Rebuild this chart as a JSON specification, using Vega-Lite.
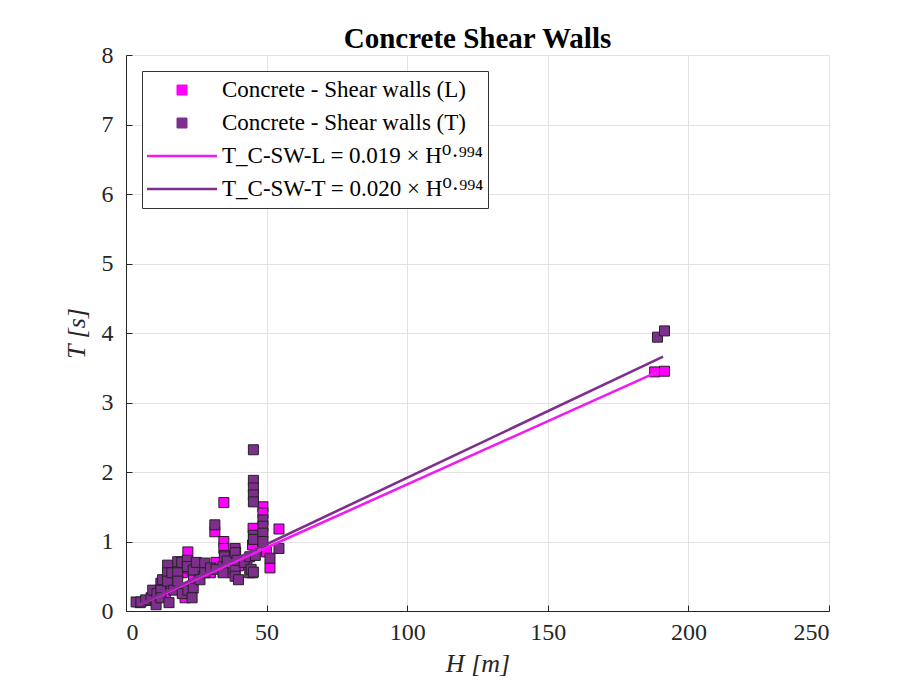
{
  "$schema": "https://vega.github.io/schema/vega-lite/v6.json",
  "width": 703,
  "height": 556,
  "autosize": {"type": "none"},
  "padding": {"left": 126, "top": 55, "right": 78, "bottom": 73},
  "background": "white",
  "config": {
    "font": "Liberation Serif",
    "view": {"stroke": "#d9d9d9", "strokeWidth": 1},
    "axis": {
      "labelFont": "Liberation Serif",
      "titleFont": "Liberation Serif",
      "labelFontSize": 24,
      "titleFontSize": 26,
      "titleFontWeight": "normal",
      "labelColor": "#262626",
      "titleColor": "#262626",
      "domainColor": "#262626",
      "tickColor": "#262626",
      "gridColor": "#e3e3e3",
      "tickSize": -6,
      "domainWidth": 1,
      "grid": true
    }
  },
  "title": {
    "text": "Concrete Shear Walls",
    "font": "Liberation Serif",
    "fontSize": 29,
    "fontWeight": "bold",
    "color": "#000000",
    "frame": "group",
    "offset": 4,
    "dy": 15,
    "anchor": "middle"
  },
  "datasets": {
    "pts": [
      {"series": "Concrete - Shear walls (L)", "H": 5, "T": 0.12},
      {"series": "Concrete - Shear walls (L)", "H": 8, "T": 0.15},
      {"series": "Concrete - Shear walls (L)", "H": 10, "T": 0.22},
      {"series": "Concrete - Shear walls (L)", "H": 12, "T": 0.3},
      {"series": "Concrete - Shear walls (L)", "H": 14, "T": 0.25},
      {"series": "Concrete - Shear walls (L)", "H": 15, "T": 0.4},
      {"series": "Concrete - Shear walls (L)", "H": 16, "T": 0.5},
      {"series": "Concrete - Shear walls (L)", "H": 18, "T": 0.35},
      {"series": "Concrete - Shear walls (L)", "H": 20, "T": 0.55},
      {"series": "Concrete - Shear walls (L)", "H": 21, "T": 0.19},
      {"series": "Concrete - Shear walls (L)", "H": 22, "T": 0.85},
      {"series": "Concrete - Shear walls (L)", "H": 22, "T": 0.62},
      {"series": "Concrete - Shear walls (L)", "H": 24, "T": 0.45},
      {"series": "Concrete - Shear walls (L)", "H": 26, "T": 0.5},
      {"series": "Concrete - Shear walls (L)", "H": 28, "T": 0.62},
      {"series": "Concrete - Shear walls (L)", "H": 30, "T": 0.55},
      {"series": "Concrete - Shear walls (L)", "H": 31.6, "T": 1.14},
      {"series": "Concrete - Shear walls (L)", "H": 32, "T": 0.7},
      {"series": "Concrete - Shear walls (L)", "H": 34.8, "T": 1.56},
      {"series": "Concrete - Shear walls (L)", "H": 34.8, "T": 1.0},
      {"series": "Concrete - Shear walls (L)", "H": 34.8, "T": 0.9},
      {"series": "Concrete - Shear walls (L)", "H": 35, "T": 0.8},
      {"series": "Concrete - Shear walls (L)", "H": 38, "T": 0.55},
      {"series": "Concrete - Shear walls (L)", "H": 39, "T": 0.85},
      {"series": "Concrete - Shear walls (L)", "H": 40, "T": 0.65},
      {"series": "Concrete - Shear walls (L)", "H": 43, "T": 0.7},
      {"series": "Concrete - Shear walls (L)", "H": 45.2, "T": 1.19},
      {"series": "Concrete - Shear walls (L)", "H": 45, "T": 0.55},
      {"series": "Concrete - Shear walls (L)", "H": 45, "T": 0.95},
      {"series": "Concrete - Shear walls (L)", "H": 48.7, "T": 1.5},
      {"series": "Concrete - Shear walls (L)", "H": 48.7, "T": 1.41},
      {"series": "Concrete - Shear walls (L)", "H": 50, "T": 0.85},
      {"series": "Concrete - Shear walls (L)", "H": 51.2, "T": 0.62},
      {"series": "Concrete - Shear walls (L)", "H": 54.4, "T": 1.18},
      {"series": "Concrete - Shear walls (L)", "H": 188, "T": 3.44},
      {"series": "Concrete - Shear walls (L)", "H": 191.5, "T": 3.45},
      {"series": "Concrete - Shear walls (T)", "H": 3.6, "T": 0.13},
      {"series": "Concrete - Shear walls (T)", "H": 5.3, "T": 0.13},
      {"series": "Concrete - Shear walls (T)", "H": 7, "T": 0.16},
      {"series": "Concrete - Shear walls (T)", "H": 8.9, "T": 0.19},
      {"series": "Concrete - Shear walls (T)", "H": 9.5, "T": 0.3},
      {"series": "Concrete - Shear walls (T)", "H": 10.7, "T": 0.09},
      {"series": "Concrete - Shear walls (T)", "H": 11, "T": 0.25},
      {"series": "Concrete - Shear walls (T)", "H": 12.4, "T": 0.4},
      {"series": "Concrete - Shear walls (T)", "H": 12.4, "T": 0.3},
      {"series": "Concrete - Shear walls (T)", "H": 12.4, "T": 0.19},
      {"series": "Concrete - Shear walls (T)", "H": 13, "T": 0.45},
      {"series": "Concrete - Shear walls (T)", "H": 14.8, "T": 0.66},
      {"series": "Concrete - Shear walls (T)", "H": 14.8, "T": 0.55},
      {"series": "Concrete - Shear walls (T)", "H": 14.8, "T": 0.43},
      {"series": "Concrete - Shear walls (T)", "H": 15.3, "T": 0.12},
      {"series": "Concrete - Shear walls (T)", "H": 16.3, "T": 0.55},
      {"series": "Concrete - Shear walls (T)", "H": 17, "T": 0.3},
      {"series": "Concrete - Shear walls (T)", "H": 18.4, "T": 0.71},
      {"series": "Concrete - Shear walls (T)", "H": 18.4, "T": 0.55},
      {"series": "Concrete - Shear walls (T)", "H": 18.4, "T": 0.43},
      {"series": "Concrete - Shear walls (T)", "H": 19.8, "T": 0.7},
      {"series": "Concrete - Shear walls (T)", "H": 20, "T": 0.25},
      {"series": "Concrete - Shear walls (T)", "H": 21.8, "T": 0.73},
      {"series": "Concrete - Shear walls (T)", "H": 21.8, "T": 0.64},
      {"series": "Concrete - Shear walls (T)", "H": 22, "T": 0.3},
      {"series": "Concrete - Shear walls (T)", "H": 23.9, "T": 0.59},
      {"series": "Concrete - Shear walls (T)", "H": 23.9, "T": 0.33},
      {"series": "Concrete - Shear walls (T)", "H": 23.5, "T": 0.19},
      {"series": "Concrete - Shear walls (T)", "H": 25, "T": 0.7},
      {"series": "Concrete - Shear walls (T)", "H": 26.3, "T": 0.45},
      {"series": "Concrete - Shear walls (T)", "H": 28, "T": 0.69},
      {"series": "Concrete - Shear walls (T)", "H": 28, "T": 0.55},
      {"series": "Concrete - Shear walls (T)", "H": 30, "T": 0.62},
      {"series": "Concrete - Shear walls (T)", "H": 31.6, "T": 1.24},
      {"series": "Concrete - Shear walls (T)", "H": 32, "T": 0.6},
      {"series": "Concrete - Shear walls (T)", "H": 34.5, "T": 0.64},
      {"series": "Concrete - Shear walls (T)", "H": 34.5, "T": 0.55},
      {"series": "Concrete - Shear walls (T)", "H": 35, "T": 0.78},
      {"series": "Concrete - Shear walls (T)", "H": 36, "T": 0.72},
      {"series": "Concrete - Shear walls (T)", "H": 38.8, "T": 0.9},
      {"series": "Concrete - Shear walls (T)", "H": 38.8, "T": 0.84},
      {"series": "Concrete - Shear walls (T)", "H": 38.8, "T": 0.59},
      {"series": "Concrete - Shear walls (T)", "H": 38.8, "T": 0.5},
      {"series": "Concrete - Shear walls (T)", "H": 39.5, "T": 0.73},
      {"series": "Concrete - Shear walls (T)", "H": 40, "T": 0.45},
      {"series": "Concrete - Shear walls (T)", "H": 42, "T": 0.7},
      {"series": "Concrete - Shear walls (T)", "H": 44, "T": 0.78},
      {"series": "Concrete - Shear walls (T)", "H": 44, "T": 0.55},
      {"series": "Concrete - Shear walls (T)", "H": 44.5, "T": 0.6},
      {"series": "Concrete - Shear walls (T)", "H": 45.3, "T": 2.32},
      {"series": "Concrete - Shear walls (T)", "H": 45.3, "T": 1.88},
      {"series": "Concrete - Shear walls (T)", "H": 45.3, "T": 1.77},
      {"series": "Concrete - Shear walls (T)", "H": 45.3, "T": 1.67},
      {"series": "Concrete - Shear walls (T)", "H": 45.3, "T": 1.57},
      {"series": "Concrete - Shear walls (T)", "H": 45.3, "T": 1.09},
      {"series": "Concrete - Shear walls (T)", "H": 45.3, "T": 1.03},
      {"series": "Concrete - Shear walls (T)", "H": 45.3, "T": 0.56},
      {"series": "Concrete - Shear walls (T)", "H": 46, "T": 0.8},
      {"series": "Concrete - Shear walls (T)", "H": 48.7, "T": 1.31},
      {"series": "Concrete - Shear walls (T)", "H": 48.7, "T": 1.22},
      {"series": "Concrete - Shear walls (T)", "H": 48.7, "T": 1.12},
      {"series": "Concrete - Shear walls (T)", "H": 48.7, "T": 1.0},
      {"series": "Concrete - Shear walls (T)", "H": 51.2, "T": 0.76},
      {"series": "Concrete - Shear walls (T)", "H": 54.4, "T": 0.9},
      {"series": "Concrete - Shear walls (T)", "H": 189, "T": 3.94},
      {"series": "Concrete - Shear walls (T)", "H": 191.5, "T": 4.03}
    ],
    "fit": [
      {"series": "T_C-SW-L = 0.019 × H⁰·⁹⁹⁴", "H": 5, "T": 0.094},
      {"series": "T_C-SW-L = 0.019 × H⁰·⁹⁹⁴", "H": 189, "T": 3.44},
      {"series": "T_C-SW-T = 0.020 × H⁰·⁹⁹⁴", "H": 5, "T": 0.099},
      {"series": "T_C-SW-T = 0.020 × H⁰·⁹⁹⁴", "H": 191, "T": 3.66}
    ]
  },
  "layer": [
    {
      "data": {"name": "pts"},
      "mark": {"type": "point", "shape": "square", "filled": true, "size": 100, "opacity": 1, "stroke": "#222222", "strokeWidth": 1},
      "encoding": {
        "x": {"field": "H", "type": "quantitative"},
        "y": {"field": "T", "type": "quantitative"},
        "color": {"field": "series", "type": "nominal"}
      }
    },
    {
      "data": {"name": "fit"},
      "mark": {"type": "line", "strokeWidth": 2.6},
      "encoding": {
        "x": {"field": "H", "type": "quantitative",
          "scale": {"domain": [0, 250], "nice": false},
          "axis": {"values": [0, 50, 100, 150, 200, 250], "format": "d", "title": "H [m]", "labelFont": "Liberation Serif", "titleFont": "Liberation Serif", "labelPadding": 15, "titlePadding": 6, "titleFontStyle": "italic"}},
        "y": {"field": "T", "type": "quantitative",
          "scale": {"domain": [0, 8], "nice": false},
          "axis": {"values": [0, 1, 2, 3, 4, 5, 6, 7, 8], "format": "d", "title": "T [s]", "labelFont": "Liberation Serif", "titleFont": "Liberation Serif", "labelPadding": 19, "titlePadding": 12, "titleFontStyle": "italic"}},
        "color": {
          "field": "series", "type": "nominal",
          "scale": {
            "domain": ["Concrete - Shear walls (L)", "Concrete - Shear walls (T)", "T_C-SW-L = 0.019 × H⁰·⁹⁹⁴", "T_C-SW-T = 0.020 × H⁰·⁹⁹⁴"],
            "range": ["#FF00FF", "#7E2F8E", "#F21AF2", "#7E2F8E"]
          },
          "legend": {
            "title": null,
            "orient": "top-left",
            "offset": 16,
            "padding": 4,
            "fillColor": "white",
            "strokeColor": "#333333",
            "labelFont": "Liberation Serif, DejaVu Serif, serif",
            "labelFontSize": 23,
            "labelColor": "#000000",
            "labelLimit": 400,
            "labelOffset": 53,
            "symbolSize": 4900,
            "clipHeight": 30,
            "rowPadding": 3,
            "encode": {
              "symbols": {
                "update": {
                  "x": {"value": 36},
                  "shape": {"signal": "indexof(['Concrete - Shear walls (L)', 'Concrete - Shear walls (T)'], datum.value) >= 0 ? 'square' : 'stroke'"},
                  "size": {"signal": "indexof(['Concrete - Shear walls (L)', 'Concrete - Shear walls (T)'], datum.value) >= 0 ? 100 : 4900"},
                  "fill": {"signal": "indexof(['Concrete - Shear walls (L)', 'Concrete - Shear walls (T)'], datum.value) >= 0 ? scale('color', datum.value) : 'transparent'"},
                  "stroke": {"signal": "indexof(['Concrete - Shear walls (L)', 'Concrete - Shear walls (T)'], datum.value) >= 0 ? '#222222' : scale('color', datum.value)"},
                  "strokeWidth": {"signal": "indexof(['Concrete - Shear walls (L)', 'Concrete - Shear walls (T)'], datum.value) >= 0 ? 1 : 2.6"},
                  "opacity": {"value": 1}
                }
              }
            }
          }
        }
      }
    }
  ]
}
